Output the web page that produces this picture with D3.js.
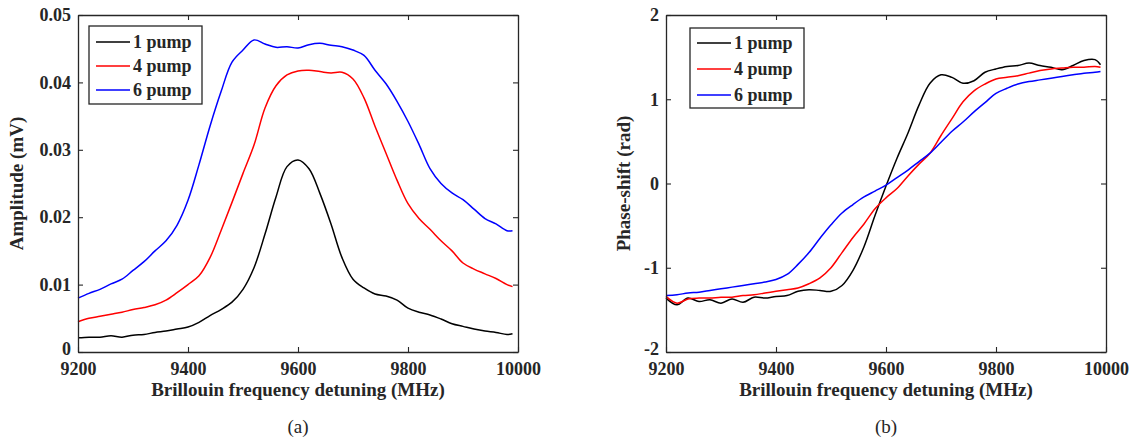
<!DOCTYPE html>
<html>
<head>
<meta charset="utf-8">
<script src="https://cdn.jsdelivr.net/npm/d3@7"></script>
<style>
  body { margin: 0; background: #fff; }
  svg text { font-family: "Liberation Serif", "Times New Roman", serif; fill: #262626; }
</style>
</head>
<body>
<svg id="chart" width="1133" height="439"></svg>
<script>
// Detuning frequency (MHz), shared by all curves
const freq = [9200, 9220, 9240, 9260, 9280, 9300, 9320, 9340, 9360, 9380,
  9400, 9420, 9440, 9460, 9480, 9500, 9520, 9540, 9560, 9580,
  9600, 9620, 9640, 9660, 9680, 9700, 9720, 9740, 9760, 9780,
  9800, 9820, 9840, 9860, 9880, 9900, 9920, 9940, 9960, 9980, 9990];

const seriesNames = ["1 pump", "4 pump", "6 pump"];
const seriesColors = ["#000000", "#ff0000", "#0000ff"];

// (a) amplitude, mV
const amp1 = [0.0021, 0.0022, 0.0022, 0.0024, 0.0022, 0.0025, 0.0026, 0.0029, 0.0031, 0.0034,
  0.0037, 0.0044, 0.0054, 0.0063, 0.0074, 0.0093, 0.0125, 0.0175, 0.0230, 0.0275,
  0.0285, 0.0272, 0.0235, 0.0190, 0.0140, 0.0108, 0.0095, 0.0086, 0.0083, 0.0077,
  0.0065, 0.0059, 0.0055, 0.0049, 0.0042, 0.0038, 0.0034, 0.0031, 0.0029, 0.0026, 0.0027];
const amp4 = [0.0045, 0.0050, 0.0053, 0.0056, 0.0059, 0.0063, 0.0066, 0.0070, 0.0077, 0.0088,
  0.0100, 0.0113, 0.0140, 0.0180, 0.0222, 0.0265, 0.0307, 0.0362, 0.0395, 0.0411,
  0.0417, 0.0418, 0.0416, 0.0414, 0.0415, 0.0405, 0.0377, 0.0335, 0.0295, 0.0255,
  0.0220, 0.0198, 0.0182, 0.0165, 0.0150, 0.0132, 0.0123, 0.0116, 0.0109, 0.0100, 0.0097];
const amp6 = [0.0080, 0.0087, 0.0093, 0.0101, 0.0108, 0.0121, 0.0134, 0.0150, 0.0165, 0.0188,
  0.0225, 0.0278, 0.0335, 0.0386, 0.0430, 0.0448, 0.0463, 0.0457, 0.0452, 0.0453,
  0.0451, 0.0456, 0.0458, 0.0455, 0.0453, 0.0448, 0.0440, 0.0418, 0.0398, 0.0372,
  0.0342, 0.0308, 0.0272, 0.0250, 0.0236, 0.0226, 0.0212, 0.0198, 0.0190, 0.0180, 0.0180];

// (b) phase shift, rad
const ph1 = [-1.36, -1.44, -1.36, -1.40, -1.38, -1.42, -1.37, -1.41, -1.35, -1.36,
  -1.34, -1.33, -1.28, -1.26, -1.27, -1.28, -1.21, -1.03, -0.75, -0.38,
  -0.03, 0.30, 0.60, 0.93, 1.19, 1.29, 1.26, 1.19, 1.22, 1.32,
  1.36, 1.39, 1.40, 1.43, 1.40, 1.38, 1.35, 1.40, 1.46, 1.47, 1.41];
const ph4 = [-1.34, -1.42, -1.37, -1.36, -1.36, -1.35, -1.35, -1.33, -1.32, -1.30,
  -1.28, -1.26, -1.24, -1.19, -1.12, -1.00, -0.82, -0.64, -0.48, -0.30,
  -0.17, -0.06, 0.09, 0.23, 0.36, 0.57, 0.77, 0.97, 1.10, 1.18,
  1.24, 1.26, 1.28, 1.31, 1.34, 1.36, 1.37, 1.38, 1.38, 1.39, 1.38];
const ph6 = [-1.33, -1.32, -1.30, -1.29, -1.27, -1.25, -1.23, -1.21, -1.19, -1.17,
  -1.14, -1.08, -0.96, -0.82, -0.65, -0.49, -0.35, -0.25, -0.16, -0.09,
  -0.02, 0.07, 0.16, 0.26, 0.36, 0.49, 0.62, 0.73, 0.85, 0.96,
  1.07, 1.13, 1.18, 1.21, 1.23, 1.25, 1.27, 1.29, 1.31, 1.32, 1.33];

const xTicks = [9200, 9400, 9600, 9800, 10000];
const ampTicks = [0, 0.01, 0.02, 0.03, 0.04, 0.05];
const phTicks = [-2, -1, 0, 1, 2];

const svg = d3.select("#chart");
const axisColor = "#262626";

// Draw one panel
function drawPanel(opt) {
  const x = d3.scaleLinear().domain([9200, 10000]).range([opt.left, opt.right]);
  const y = d3.scaleLinear().domain(opt.yDomain).range([opt.bottom, opt.top]);
  const g = svg.append("g");

  // curves
  const line = d3.line()
    .x(d => x(d[0])).y(d => y(d[1]))
    .curve(d3.curveCatmullRom.alpha(0.5));
  opt.series.forEach((vals, i) => {
    g.append("path")
      .datum(freq.map((f, j) => [f, vals[j]]))
      .attr("d", line)
      .attr("fill", "none")
      .attr("stroke", seriesColors[i])
      .attr("stroke-width", 1.5)
      .attr("stroke-linejoin", "round");
  });

  // axes, ticks pointing inward on all four sides
  const tickLen = 5;
  const axes = [
    d3.axisBottom(x).tickValues(xTicks).tickSizeInner(-tickLen).tickSizeOuter(0).tickPadding(10).tickFormat(d => String(d)),
    d3.axisTop(x).tickValues(xTicks).tickSizeInner(-tickLen).tickSizeOuter(0).tickFormat(""),
    d3.axisLeft(y).tickValues(opt.yTicks).tickSizeInner(-tickLen).tickSizeOuter(0).tickPadding(7).tickFormat(opt.fmt),
    d3.axisRight(y).tickValues(opt.yTicks).tickSizeInner(-tickLen).tickSizeOuter(0).tickFormat("")
  ];
  const pos = [`translate(0,${opt.bottom})`, `translate(0,${opt.top})`,
    `translate(${opt.left},0)`, `translate(${opt.right},0)`];
  axes.forEach((ax, i) => {
    const a = g.append("g").attr("transform", pos[i]).call(ax);
    a.select(".domain").attr("stroke", axisColor).attr("stroke-width", 1.3);
    a.selectAll(".tick line").attr("stroke", axisColor).attr("stroke-width", 1.1);
    a.selectAll(".tick text")
      .attr("fill", axisColor)
      .style("font-family", '"Liberation Serif", serif')
      .style("font-size", "18px")
      .style("font-weight", "bold");
    // lowest y label sits a little higher, clear of the first x label
    if (i === 2) a.selectAll(".tick text").filter(d => d === opt.yDomain[0]).attr("dy", "0.12em");
  });

  // axis titles
  g.append("text")
    .attr("x", (opt.left + opt.right) / 2).attr("y", 396)
    .attr("text-anchor", "middle")
    .style("font-size", "19px").style("font-weight", "bold")
    .text("Brillouin frequency detuning (MHz)");
  g.append("text")
    .attr("transform", `translate(${opt.yLabelX},${(opt.top + opt.bottom) / 2}) rotate(-90)`)
    .attr("text-anchor", "middle")
    .style("font-size", "19px").style("font-weight", "bold")
    .text(opt.yLabel);
  g.append("text")
    .attr("x", (opt.left + opt.right) / 2).attr("y", 433)
    .attr("text-anchor", "middle")
    .style("font-size", "19px")
    .text(opt.caption);

  // legend
  const L = opt.legend;
  g.append("rect")
    .attr("x", L.x).attr("y", L.y).attr("width", L.w).attr("height", L.h)
    .attr("fill", "#fff").attr("stroke", axisColor).attr("stroke-width", 1.3);
  seriesNames.forEach((name, i) => {
    const ly = L.y + L.first + i * L.step;
    g.append("line")
      .attr("x1", L.x + 7).attr("x2", L.x + 41)
      .attr("y1", ly).attr("y2", ly)
      .attr("stroke", seriesColors[i]).attr("stroke-width", 1.5);
    g.append("text")
      .attr("x", L.x + 44).attr("y", ly + 6)
      .style("font-size", "18px").style("font-weight", "bold")
      .text(name);
  });
}

drawPanel({
  left: 78, right: 518, top: 15, bottom: 352,
  yDomain: [0, 0.05], yTicks: ampTicks, fmt: d => d === 0 ? "0" : d3.format(".2f")(d),
  series: [amp1, amp4, amp6],
  yLabel: "Amplitude (mV)", yLabelX: 23, caption: "(a)",
  legend: { x: 89, y: 26, w: 113, h: 78, first: 16, step: 24 }
});

drawPanel({
  left: 666, right: 1106, top: 15, bottom: 352,
  yDomain: [-2, 2], yTicks: phTicks, fmt: d => String(d),
  series: [ph1, ph4, ph6],
  yLabel: "Phase-shift (rad)", yLabelX: 630, caption: "(b)",
  legend: { x: 690, y: 28, w: 114, h: 80, first: 15, step: 26 }
});
</script>
</body>
</html>
